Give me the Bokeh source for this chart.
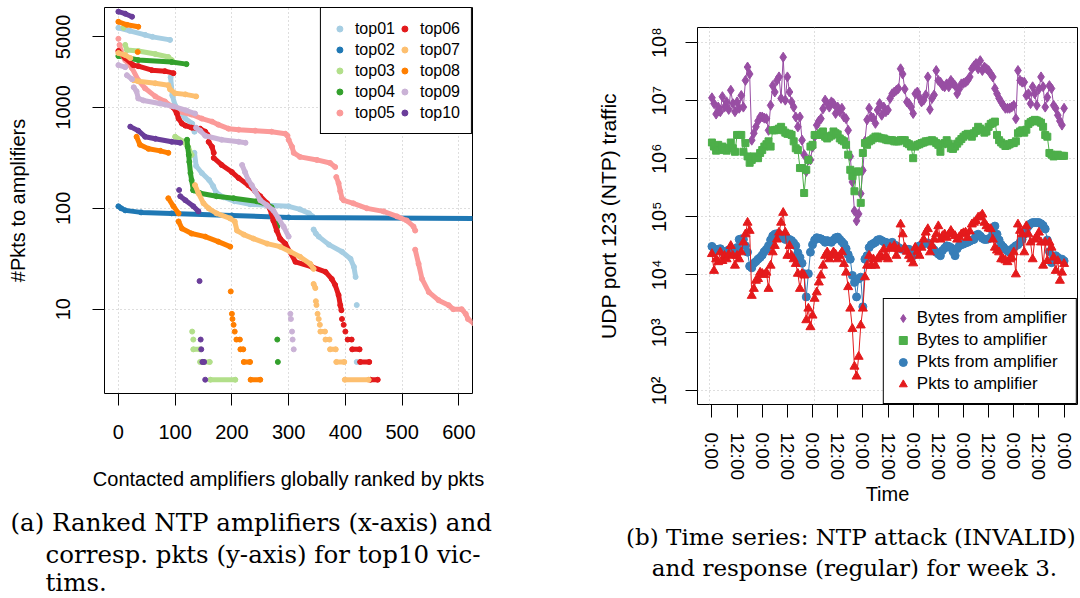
import numpy as np
from bokeh.plotting import figure
from bokeh.models import Range1d, FixedTicker, Legend, LegendItem, Spacer
from bokeh.layouts import column, row
from bokeh.embed import file_html
from bokeh.resources import INLINE
from bokeh.core.properties import value

FONT = "Liberation Sans"
SERIF = "DejaVu Serif"

# ---------------------------------------------------------------- panel (a) data
# ranked amplifiers: runs of (rank, log10 #pkts),
# integer-count plateaus (rank_start, rank_end, pkts) and single dots (rank, pkts)
series_names = ["top01", "top02", "top03", "top04", "top05",
                "top06", "top07", "top08", "top09", "top10"]
series_colors = ["#A6CEE3", "#1F78B4", "#B2DF8A", "#33A02C", "#FB9A99",
                 "#E31A1C", "#FDBF6F", "#FF7F00", "#CAB2D6", "#6A3D9A"]

top01_runs_log10 = [
    [(0, 3.79), (20, 3.76), (47, 3.72), (60, 3.70), (91, 3.67)],
    [(92, 3.30), (95, 3.12), (100, 3.02), (118, 2.89), (130, 2.84), (134, 2.76)],
    [(134, 2.55), (137, 2.42), (147, 2.35), (160, 2.28), (167, 2.22), (172, 2.16), (185, 2.11),
     (205, 2.07), (232, 2.04), (262, 2.03), (300, 2.02), (320, 1.99), (336, 1.95), (342, 1.92)],
    [(344, 1.79), (348, 1.75), (353, 1.72), (371, 1.64), (394, 1.57), (409, 1.50), (415, 1.42),
     (418, 1.32)],
]
top01_levels = []
top01_dots = [(420, 11), (420, 3)]

top02_runs_log10 = [
    [(0, 2.02), (5, 2.0), (12, 1.98), (40, 1.96), (94, 1.95), (200, 1.93), (300, 1.91), (630, 1.90)],
]
top02_levels = []
top02_dots = []

top03_runs_log10 = [
    [(9, 3.79)],
    [(12, 3.62), (15, 3.57), (35, 3.56), (65, 3.53), (88, 3.50), (94, 3.47)],
    [(100, 2.71), (115, 2.66), (123, 2.61), (129, 2.53)],
]
top03_levels = [(132, 144, 4), (144, 161, 3), (162, 206, 2)]
top03_dots = [(130, 6), (132, 5)]

top04_runs_log10 = [
    [(0, 3.51), (35, 3.47), (94, 3.45), (120, 3.43)],
    [(121, 2.68), (122, 2.61), (124, 2.53), (125, 2.46), (127, 2.35), (129, 2.28), (132, 2.18)],
    [(132, 2.18), (144, 2.15), (173, 2.12), (203, 2.10), (244, 2.07), (262, 2.04), (270, 2.01),
     (276, 1.92), (280, 1.82)],
]
top04_levels = []
top04_dots = [(280, 5), (281, 3)]

top05_runs_log10 = [
    [(2, 3.62), (4, 3.57), (7, 3.52), (12, 3.47), (24, 3.39), (35, 3.27), (47, 3.19), (65, 3.11),
     (82, 3.06), (94, 3.01), (106, 2.96), (129, 2.93), (147, 2.89), (165, 2.86), (176, 2.83),
     (194, 2.79), (212, 2.78), (241, 2.77), (270, 2.76), (294, 2.74), (298, 2.72)],
    [(300, 2.68), (306, 2.61), (309, 2.55), (320, 2.51), (350, 2.48), (373, 2.45), (382, 2.41)],
    [(384, 2.31), (388, 2.25), (391, 2.17), (394, 2.10)],
    [(397, 2.08), (414, 2.05), (438, 2.00), (467, 1.97), (491, 1.92), (508, 1.88), (520, 1.82),
     (523, 1.78)],
    [(523, 1.59), (529, 1.45), (535, 1.30), (547, 1.17), (564, 1.09), (582, 1.04), (590, 1.0),
     (605, 1.0), (612, 0.954), (616, 0.903), (626, 0.86)],
]
top05_levels = []
top05_dots = [(0, 4800)]

top06_runs_log10 = [
    [(0, 3.56), (12, 3.49), (26, 3.42), (35, 3.41), (59, 3.37), (82, 3.36), (97, 3.34)],
    [(97, 3.0), (103, 2.94), (106, 2.89), (112, 2.84), (118, 2.82), (129, 2.80), (144, 2.79),
     (153, 2.76), (157, 2.73)],
    [(159, 2.66), (165, 2.61), (168, 2.55)],
    [(168, 2.50), (182, 2.43), (200, 2.36), (212, 2.30), (229, 2.23), (241, 2.17), (250, 2.12),
     (262, 2.05), (270, 1.95), (273, 1.88), (279, 1.78), (285, 1.70), (294, 1.65), (312, 1.47),
     (341, 1.42), (365, 1.37), (376, 1.30), (382, 1.24), (388, 1.14), (391, 1.04), (393, 0.99)],
]
top06_levels = [(404, 411, 5), (412, 425, 4), (426, 442, 3), (444, 457, 2)]
top06_dots = [(394, 8), (397, 7), (400, 6)]

top07_runs_log10 = [
    [(0, 3.54), (12, 3.52), (21, 3.49)],
    [(27, 3.27), (35, 3.26), (65, 3.24), (88, 3.22), (91, 3.18), (100, 3.14), (118, 3.13),
     (137, 3.11)],
    [(135, 2.23), (141, 2.15), (150, 2.05), (159, 2.0), (173, 1.95), (197, 1.90), (205, 1.87),
     (209, 1.78), (221, 1.74), (238, 1.70), (262, 1.65), (285, 1.62), (303, 1.57), (320, 1.52),
     (338, 1.45), (344, 1.40)],
    [(344, 1.25), (347, 1.21)],
]
top07_levels = [(356, 364, 6), (365, 372, 5), (373, 383, 4), (384, 398, 3), (399, 441, 2)]
top07_dots = [(348, 12), (349, 11), (351, 9), (353, 8), (355, 7)]

top08_runs_log10 = [
    [(0, 3.85), (15, 3.82), (35, 3.80)],
    [(32, 2.71), (38, 2.63), (53, 2.59), (74, 2.57), (88, 2.55)],
    [(88, 2.10), (97, 2.02), (106, 1.95)],
    [(106, 1.87), (112, 1.80), (129, 1.75), (153, 1.72), (176, 1.67), (197, 1.62)],
]
top08_levels = [(208, 214, 5), (215, 220, 4), (221, 232, 3), (233, 250, 2)]
top08_dots = [(34, 3550), (198, 15), (200, 9), (201, 8), (203, 7), (205, 6)]

top09_runs_log10 = [
    [(0, 3.42), (12, 3.40)],
    [(15, 3.32), (24, 3.28)],
    [(27, 3.20), (32, 3.16), (35, 3.09), (44, 3.07), (73, 3.04), (97, 3.01), (120, 2.97),
     (135, 2.94)],
    [(137, 2.80), (144, 2.77), (153, 2.72), (182, 2.68), (212, 2.66), (224, 2.65)],
    [(218, 2.43), (223, 2.36), (229, 2.28), (235, 2.23), (241, 2.17), (250, 2.08), (262, 2.03),
     (273, 1.98), (282, 1.90), (291, 1.82), (300, 1.72)],
]
top09_levels = []
top09_dots = [(303, 9), (304, 8), (306, 6), (307, 5), (309, 4)]

top10_runs_log10 = [
    [(0, 3.95), (12, 3.93), (24, 3.90)],
    [(21, 2.81), (35, 2.77), (47, 2.71), (65, 2.69), (94, 2.66), (109, 2.65)],
    [(109, 2.12), (118, 2.08), (132, 2.02), (141, 1.97)],
]
top10_levels = [(148, 151, 3)]
top10_dots = [(107, 152), (143, 19), (145, 5), (146, 4), (153, 2)]

all_runs = [top01_runs_log10, top02_runs_log10, top03_runs_log10, top04_runs_log10,
            top05_runs_log10, top06_runs_log10, top07_runs_log10, top08_runs_log10,
            top09_runs_log10, top10_runs_log10]
all_levels = [top01_levels, top02_levels, top03_levels, top04_levels, top05_levels,
              top06_levels, top07_levels, top08_levels, top09_levels, top10_levels]
all_dots = [top01_dots, top02_dots, top03_dots, top04_dots, top05_dots,
            top06_dots, top07_dots, top08_dots, top09_dots, top10_dots]

a_xticks = [0, 100, 200, 300, 400, 500, 600]
a_yticks = [10, 100, 1000, 5000]
a_ygrid = [10, 100, 1000]

# ---------------------------------------------------------------- panel (b) data
# hourly log10 values over one week (hour 0 .. 168)
bytes_from_log10 = [
    7.05, 6.95, 6.77, 6.89, 6.81, 7.07, 6.89, 6.98, 6.85, 7.18,
    6.95, 6.81, 6.98, 6.87, 7.09, 6.89, 7.35, 7.58, 7.46, 6.32,
    6.44, 6.55, 6.65, 6.72, 6.72, 6.70, 6.69, 6.49, 6.92, 7.26,
    7.15, 7.35, 7.41, 7.04, 7.75, 7.01, 7.41, 7.15, 6.98, 6.89,
    6.72, 6.55, 6.72, 6.32, 6.07, 5.78, 5.98, 5.98, 6.20, 6.38,
    6.58, 6.65, 6.69, 6.86, 7.01, 6.95, 6.89, 6.98, 6.95, 6.78,
    6.89, 6.81, 6.87, 6.72, 6.69, 6.49, 6.04, 5.60, 5.10, 4.93,
    5.05, 5.40, 5.80, 6.30, 6.67, 6.87, 6.72, 6.70, 6.61, 6.84,
    6.95, 6.75, 6.89, 6.81, 6.84, 7.04, 7.12, 7.15, 7.18, 7.21,
    7.55, 7.46, 7.20, 6.98, 6.95, 6.89, 6.78, 7.12, 7.15, 7.06,
    6.98, 7.01, 7.10, 7.41, 6.85, 7.04, 7.10, 7.52, 7.35, 7.32,
    7.26, 7.24, 7.29, 7.24, 7.35, 7.30, 7.26, 7.12, 7.20, 7.29,
    7.30, 7.32, 7.35, 7.41, 7.55, 7.60, 7.64, 7.55, 7.69, 7.52,
    7.58, 7.55, 7.52, 7.46, 7.41, 7.21, 7.12, 7.04, 6.98, 6.92,
    6.87, 6.87, 6.87, 6.89, 6.92, 6.69, 7.52, 7.35, 7.32, 7.32,
    7.09, 7.12, 6.95, 7.24, 7.12, 6.92, 7.20, 7.41, 7.24, 6.89,
    7.06, 7.26, 7.21, 6.92, 6.87, 6.75, 6.65, 6.58, 6.87,
]
bytes_to_log10 = [
    6.28, 6.21, 6.14, 6.24, 6.15, 6.21, 6.18, 6.14, 6.18, 6.28,
    6.18, 6.12, 6.41, 6.41, 6.41, 6.12, 6.27, 6.04, 5.93, 5.98,
    6.04, 6.02, 6.01, 6.10, 6.15, 6.21, 6.25, 6.30, 6.21, 6.49,
    6.49, 6.50, 6.52, 6.55, 6.49, 6.45, 6.43, 6.43, 6.41, 6.30,
    6.18, 6.15, 5.84, 5.84, 5.41, 5.81, 5.98, 6.21, 6.24, 6.41,
    6.41, 6.41, 6.44, 6.47, 6.38, 6.35, 6.38, 6.40, 6.47, 6.44,
    6.42, 6.35, 6.32, 6.30, 6.24, 6.07, 5.81, 5.70, 5.44, 5.78,
    5.78, 5.24, 6.10, 6.27, 6.24, 6.30, 6.32, 6.35, 6.38, 6.38,
    6.36, 6.35, 6.35, 6.33, 6.32, 6.32, 6.32, 6.30, 6.30, 6.30,
    6.32, 6.32, 6.32, 6.27, 6.25, 6.21, 6.01, 6.21, 6.24, 6.25,
    6.27, 6.28, 6.30, 6.30, 6.31, 6.32, 6.30, 6.27, 6.24, 6.12,
    6.25, 6.27, 6.32, 6.26, 6.18, 6.17, 6.21, 6.26, 6.30, 6.34,
    6.38, 6.41, 6.43, 6.42, 6.38, 6.44, 6.48, 6.55, 6.52, 6.49,
    6.45, 6.47, 6.55, 6.60, 6.62, 6.64, 6.41, 6.32, 6.28, 6.25,
    6.22, 6.23, 6.25, 6.27, 6.27, 6.30, 6.44, 6.47, 6.49, 6.45,
    6.50, 6.60, 6.63, 6.65, 6.67, 6.66, 6.64, 6.62, 6.55, 6.41,
    6.38, 6.10, 6.07, 6.04, 6.06, 6.07, 6.05, 6.05, 6.05,
]
pkts_from_log10 = [
    4.49, 4.45, 4.42, 4.44, 4.45, 4.40, 4.39, 4.41, 4.43, 4.41,
    4.39, 4.42, 4.47, 4.61, 4.62, 4.61, 4.50, 4.39, 4.15, 4.12,
    4.20, 4.23, 4.27, 4.30, 4.34, 4.40, 4.44, 4.50, 4.60, 4.67,
    4.70, 4.71, 4.70, 4.68, 4.64, 4.61, 4.62, 4.61, 4.59, 4.55,
    4.50, 4.38, 4.30, 4.20, 4.02, 3.62, 4.02, 4.39, 4.52, 4.60,
    4.64, 4.63, 4.62, 4.60, 4.56, 4.59, 4.57, 4.56, 4.60, 4.64,
    4.65, 4.61, 4.57, 4.53, 4.45, 4.35, 4.27, 3.99, 3.87, 3.62,
    3.93, 3.96, 3.45, 4.27, 4.33, 4.47, 4.52, 4.54, 4.56, 4.60,
    4.61, 4.59, 4.57, 4.56, 4.54, 4.54, 4.56, 4.52, 4.50, 4.47,
    4.45, 4.44, 4.44, 4.44, 4.44, 4.40, 4.33, 4.42, 4.47, 4.50,
    4.51, 4.53, 4.55, 4.55, 4.52, 4.47, 4.43, 4.39, 4.36, 4.33,
    4.42, 4.46, 4.50, 4.49, 4.47, 4.40, 4.33, 4.45, 4.50, 4.52,
    4.53, 4.55, 4.56, 4.58, 4.60, 4.61, 4.68, 4.70, 4.67, 4.63,
    4.61, 4.61, 4.62, 4.64, 4.72, 4.84, 4.70, 4.60, 4.52, 4.48,
    4.44, 4.41, 4.39, 4.44, 4.47, 4.50, 4.52, 4.56, 4.61, 4.70,
    4.78, 4.84, 4.88, 4.90, 4.90, 4.90, 4.90, 4.88, 4.85, 4.79,
    4.60, 4.40, 4.21, 4.30, 4.33, 4.30, 4.27, 4.27, 4.24,
]
pkts_to_log10 = [
    4.36, 4.07, 4.27, 4.22, 4.39, 4.24, 4.33, 4.27, 4.35, 4.50,
    4.33, 4.16, 4.33, 4.27, 4.39, 4.56, 4.70, 4.90, 4.76, 3.64,
    3.76, 3.90, 3.93, 4.04, 4.02, 4.00, 4.04, 3.76, 4.16, 4.39,
    4.50, 4.61, 4.73, 4.90, 5.07, 4.73, 4.33, 4.50, 4.33, 4.27,
    4.19, 4.02, 3.76, 4.02, 3.99, 3.22, 3.42, 3.10, 3.30, 3.59,
    3.70, 3.87, 3.99, 4.16, 4.33, 4.39, 4.27, 4.33, 4.39, 4.35,
    4.27, 4.33, 4.39, 4.19, 4.04, 3.79, 3.42, 3.07, 2.42, 2.25,
    2.59, 3.13, 3.42, 3.96, 4.16, 4.33, 4.16, 4.27, 4.16, 4.27,
    4.33, 4.30, 4.44, 4.33, 4.27, 4.47, 4.45, 4.50, 4.33, 4.44,
    4.87, 4.70, 4.47, 4.40, 4.33, 4.27, 4.20, 4.47, 4.40, 4.33,
    4.47, 4.61, 4.73, 4.79, 4.39, 4.50, 4.61, 4.70, 4.84, 4.61,
    4.67, 4.70, 4.64, 4.70, 4.76, 4.70, 4.67, 4.61, 4.65, 4.70,
    4.72, 4.73, 4.64, 4.75, 4.87, 4.90, 4.93, 4.99, 5.00, 5.04,
    4.90, 4.84, 4.80, 4.79, 4.61, 4.47, 4.42, 4.39, 4.27, 4.27,
    4.25, 4.22, 4.27, 4.30, 4.39, 4.01, 4.87, 4.76, 4.70, 4.39,
    4.84, 4.70, 4.56, 4.27, 4.61, 4.65, 4.73, 4.56, 4.16, 4.56,
    4.24, 4.56, 4.47, 4.30, 4.07, 4.24, 3.90, 4.04, 4.19,
]
b_series_labels = ["Bytes from amplifier", "Bytes to amplifier",
                   "Pkts from amplifier", "Pkts to amplifier"]
b_series_colors = ["#984EA3", "#4DAF4A", "#377EB8", "#E41A1C"]
b_series_markers = ["diamond", "square", "circle", "triangle"]
b_series_sizes = [10, 7, 8, 9]

b_xtick_pos = [1, 13, 25, 37, 49, 61, 73, 85, 97, 109, 121, 133, 145, 157, 169]
b_xtick_labels = ["0:00", "12:00"] * 7 + ["0:00"]
b_xgrid = [0, 50, 100, 150]
b_yticks = [1e2, 1e3, 1e4, 1e5, 1e6, 1e7, 1e8]
b_ytick_labels = ["10²", "10³", "10⁴", "10⁵", "10⁶", "10⁷", "10⁸"]

# caption lines: text, x, y (page pixels), alignment, font size
caption_lines = [
    ("(a) Ranked NTP amplifiers (x-axis) and", 10, 522, "left", "24.5px"),
    ("corresp.  pkts (y-axis) for top10 vic-", 45, 554, "left", "24.5px"),
    ("tims.", 45, 582, "left", "24.5px"),
    ("(b) Time series:  NTP attack (INVALID)", 854, 536, "center", "23px"),
    ("and response (regular) for week 3.", 854, 567, "center", "23px"),
]


def style_axis(ax, tin, tout, standoff, label_standoff):
    ax.axis_line_color = None
    ax.major_tick_line_color = "black"
    ax.major_tick_line_width = 1
    ax.major_tick_in = tin
    ax.major_tick_out = tout
    ax.minor_tick_line_color = None
    ax.major_label_text_font = FONT
    ax.major_label_text_font_size = "20px"
    ax.major_label_text_color = "black"
    ax.major_label_standoff = standoff
    ax.axis_label_text_font = FONT
    ax.axis_label_text_font_size = "20px"
    ax.axis_label_text_font_style = "normal"
    ax.axis_label_text_color = "black"
    ax.axis_label_standoff = label_standoff


def style_grid(g, ticks):
    g.ticker = FixedTicker(ticks=ticks)
    g.grid_line_color = "#BDBDBD"
    g.grid_line_dash = "1 3"
    g.grid_line_width = 1


ROW_H = 508
TOP_B = 20          # panel (b) starts lower on the page

# ---------------------------------------------------------------- panel (a)
pa = figure(width=560, height=ROW_H, y_axis_type="log",
            x_range=Range1d(-24.5, 624), y_range=Range1d(1.46, 9800),
            output_backend="svg", toolbar_location=None,
            min_border_left=104, min_border_right=88, min_border_top=7,
            min_border_bottom=ROW_H - 393)
pa.outline_line_color = "black"
pa.outline_line_width = 1
pa.outline_line_alpha = 1
pa.background_fill_color = "white"
pa.border_fill_color = "white"

pa.xaxis.ticker = FixedTicker(ticks=a_xticks)
pa.yaxis.ticker = FixedTicker(ticks=a_yticks)
pa.yaxis.major_label_overrides = {t: str(t) for t in a_yticks}
pa.yaxis.major_label_orientation = "parallel"
pa.xaxis.axis_label = "Contacted amplifiers globally ranked by pkts"
pa.yaxis.axis_label = "#Pkts to amplifiers"
style_axis(pa.xaxis[0], 0, 12, 19, 26)
style_axis(pa.yaxis[0], 0, 12, 22, 25)
style_grid(pa.xgrid[0], a_xticks)
style_grid(pa.ygrid[0], a_ygrid)

legend_items_a = []
for name, color, runs, levels, dots in zip(series_names, series_colors, all_runs, all_levels, all_dots):
    xs, ys, px, py = [], [], [], []
    for run in runs:
        rx = [p[0] for p in run]
        ry = [10 ** p[1] for p in run]
        px += rx
        py += ry
        if len(run) > 1:
            xs.append(rx)
            ys.append(ry)
    for (x0, x1, c) in levels:
        xs.append([x0, x1])
        ys.append([c, c])
        px += [x0, x1]
        py += [c, c]
    for (x, c) in dots:
        px.append(x)
        py.append(c)
    if xs:
        pa.multi_line(xs, ys, line_color=color, line_width=5, line_cap="round", line_join="round")
    r = pa.scatter(px, py, marker="circle", size=5, fill_color=color, line_color=color)
    legend_items_a.append(LegendItem(label=name, renderers=[r]))

leg_a = Legend(items=legend_items_a, location="top_right", ncols=2,
               border_line_color="black", border_line_width=1, border_line_alpha=1,
               background_fill_color="white", background_fill_alpha=1,
               label_text_font=FONT, label_text_font_size="16px", label_text_color="black",
               glyph_width=15, glyph_height=19, label_height=19, label_standoff=8,
               spacing=2, padding=11, margin=0)
pa.add_layout(leg_a)

# ---------------------------------------------------------------- panel (b)
pb = figure(width=520, height=ROW_H - TOP_B, y_axis_type="log",
            x_range=Range1d(-5.88, 175.4), y_range=Range1d(10 ** 1.766, 10 ** 8.2615),
            output_backend="svg", toolbar_location=None,
            min_border_left=137, min_border_right=3, min_border_top=7,
            min_border_bottom=ROW_H - 407)
pb.outline_line_color = "black"
pb.outline_line_width = 1
pb.outline_line_alpha = 1
pb.background_fill_color = "white"
pb.border_fill_color = "white"

pb.xaxis.ticker = FixedTicker(ticks=b_xtick_pos)
pb.xaxis.major_label_overrides = dict(zip(b_xtick_pos, b_xtick_labels))
pb.xaxis.major_label_orientation = "vertical"
pb.yaxis.ticker = FixedTicker(ticks=b_yticks)
pb.yaxis.major_label_overrides = dict(zip(b_yticks, b_ytick_labels))
pb.yaxis.major_label_orientation = "parallel"
pb.xaxis.axis_label = "Time"
pb.yaxis.axis_label = "UDP port 123 (NTP) traffic"
style_axis(pb.xaxis[0], 0, 13, 15, 0)
style_axis(pb.yaxis[0], 0, 12, 15, 26)
pb.xaxis.major_label_text_font_size = "19px"
pb.yaxis.axis_label_text_font_size = "21px"
style_grid(pb.xgrid[0], b_xgrid)
style_grid(pb.ygrid[0], b_yticks)

hour_index = [h + 1 for h in range(len(bytes_from_log10))]
legend_items_b = []
for label, vals, color, marker, size in zip(
        b_series_labels,
        [bytes_from_log10, bytes_to_log10, pkts_from_log10, pkts_to_log10],
        b_series_colors, b_series_markers, b_series_sizes):
    yv = [10 ** v for v in vals]
    pb.line(hour_index, yv, line_color=color, line_width=1)
    r = pb.scatter(hour_index, yv, marker=marker, size=size, fill_color=color, line_color=color)
    legend_items_b.append(LegendItem(label=label, renderers=[r]))

leg_b = Legend(items=legend_items_b, location="bottom_right",
               border_line_color="black", border_line_width=1, border_line_alpha=1,
               background_fill_color="white", background_fill_alpha=1,
               label_text_font=FONT, label_text_font_size="17px", label_text_color="black",
               glyph_width=20, glyph_height=20, label_height=20, label_standoff=4,
               spacing=2, padding=9, margin=0)
pb.add_layout(leg_b)

# ---------------------------------------------------------------- captions
pc = figure(width=1080, height=598 - ROW_H, x_range=Range1d(0, 1080), y_range=Range1d(598, ROW_H),
            output_backend="svg", toolbar_location=None, min_border=0,
            x_axis_location=None, y_axis_location=None)
pc.grid.visible = False
pc.outline_line_color = None
for txt, x, y, align, fs in caption_lines:
    pc.text(x=[x], y=[y], text=[txt], text_font=value(SERIF), text_font_size=fs,
            text_align=align, text_baseline="alphabetic", text_color="black")

right_col = column(Spacer(width=520, height=TOP_B), pb, spacing=0)
layout = column(row(pa, right_col, spacing=0), pc, spacing=0)
open("out.html", "w").write(file_html(layout, INLINE))
